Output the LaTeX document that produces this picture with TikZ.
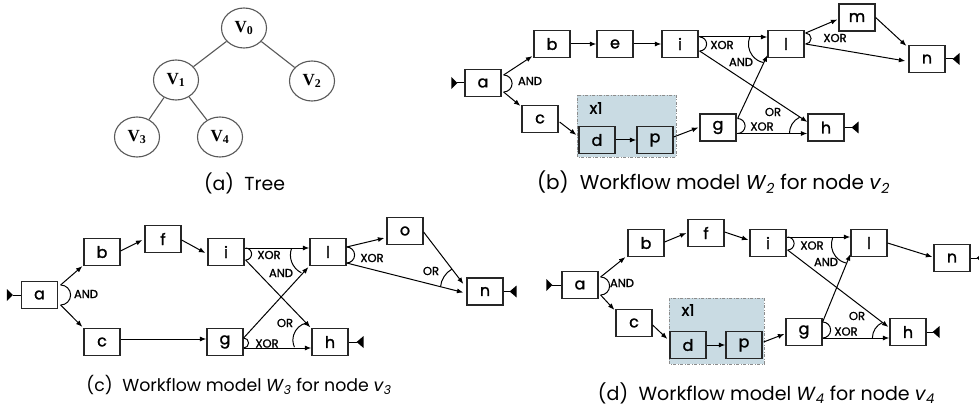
\documentclass[tikz,border=0pt]{standalone}
\usepackage{fontspec}
\usepackage{graphicx}
\usetikzlibrary{shapes.geometric,arrows.meta,calc}

\newfontfamily\popfont{Poppins}
\newfontfamily\popheavy{Poppins}[FakeBold=1.4]
\newfontfamily\vserif{Liberation Serif}
\newcommand\boxfont{\popheavy\fontsize{16}{18}\selectfont}
\newcommand\gatefont{\popheavy\fontsize{11.5}{13}\selectfont}
\newcommand\capfont{\popfont\fontsize{18}{20}\selectfont}
\newcommand\treefont{\vserif\bfseries\fontsize{17}{19}\selectfont}
\newcommand\capline[2]{\resizebox{#1pt}{!}{#2}}
\definecolor{groupblue}{RGB}{201,219,227}

\tikzset{
  task/.style={draw=black!85, line width=1.2pt, minimum width=36pt, minimum height=27pt,
    inner sep=0pt, font=\boxfont},
  gate/.style={font=\gatefont, inner sep=0pt},
  flow/.style={line width=1pt, -{Latex[length=6.5pt,width=5pt]}},
  joint/.style={line width=1pt},
  vert/.style={ellipse, draw=black!65, line width=1.1pt, minimum width=45pt,
    minimum height=40pt, inner sep=0pt, font=\treefont},
  treeedge/.style={draw=black!65, line width=1.1pt},
  group/.style={fill=groupblue, draw=black!45, line width=0.8pt,
    dash pattern=on 3pt off 1.5pt on 1pt off 1.5pt},
  caption/.style={font=\capfont, inner sep=0pt},
  endmark/.style={fill=black},
}

\begin{document}
\begin{tikzpicture}[x=1pt,y=1pt]
\path[use as bounding box] (0,0) rectangle (979,410);
\clip (0,0) rectangle (979,410);
\fill[white] (0,0) rectangle (979,410);

% ---------------- (a) tree ----------------
\node[vert] (v0) at (244,382) {V\textsubscript{0}};
\node[vert] (v1) at (176,330) {V\textsubscript{1}};
\node[vert] (v2) at (312,329) {V\textsubscript{2}};
\node[vert] (v3) at (137,273) {V\textsubscript{3}};
\node[vert] (v4) at (220,273) {V\textsubscript{4}};
\draw[treeedge] (v0) -- (v1);
\draw[treeedge] (v0) -- (v2);
\draw[treeedge] (v1) -- (v3);
\draw[treeedge] (v1) -- (v4);
\node[caption] (capA) at (244.5,227) {\capline{81}{(a)\hspace{0.55em}Tree}};

% ---------------- (b) workflow W2 ----------------
\path[group] (577,253) rectangle (676,315);
\node[gate, font=\boxfont] (Bx) at (596,302) {x1};
\node[task] (Ba) at (483,327) {a};
\node[task] (Bb) at (552,366) {b};
\node[task] (Be) at (615,366) {e};
\node[task] (Bi) at (680,366) {i};
\node[task] (Bl) at (786,366) {l};
\node[task] (Bm) at (857,392.5) {m};
\node[task] (Bn) at (927,351) {n};
\node[task] (Bc) at (540,291) {c};
\node[task] (Bd) at (597,270) {d};
\node[task] (Bp) at (655,270) {p};
\node[task] (Bg) at (718,282.5) {g};
\node[task] (Bh) at (826,282.5) {h};

\coordinate (BaS) at ($(Ba.west)+(-7,0)$);
\draw[joint] (BaS) -- (Ba.west);
\fill[endmark] (BaS) -- ++(-6,6) -- ++(0,-12) -- cycle;

\draw[flow] ($(Ba.east)+(2,8)$) -- ($(Bb.south west)+(-1,2)$);
\draw[flow] ($(Ba.east)+(2,-9)$) -- ($(Bc.north west)+(-1,-1)$);
\draw[joint] ($(Ba.east)+(2,8)$) arc[start angle=90,end angle=-90,radius=8.5];
\node[gate] at (530,329) {AND};

\draw[flow] (Bb) -- (Be);
\draw[flow] (Be) -- (Bi);
\draw[flow] ($(Bi.east)+(0,7)$) -- ($(Bl.west)+(0,7)$);
\draw[flow] ($(Bi.east)+(1,-7)$) -- ($(Bh.west)+(0,5.5)$);
\draw[joint] ($(Bi.east)+(1,7)$) arc[start angle=90,end angle=-90,radius=7];
\node[gate] at (722,365) {XOR};

\draw[flow] ($(Bg.east)+(1,9)$) -- ($(Bl.south west)+(0,3)$);
\draw[flow] ($(Bg.east)+(0,-6)$) -- ($(Bh.west)+(0,-6)$);
\draw[joint] ($(Bg.east)+(1,9)$) arc[start angle=90,end angle=-90,radius=7.5];
\node[gate] at (762,283.5) {XOR};

\draw[joint] ($(Bh.west)+(0,-6)$) ++(116:18) arc[start angle=116,end angle=180,radius=18];
\node[gate] at (773,298) {OR};
\draw[joint] (Bl.west) ++(158:19) arc[start angle=158,end angle=258,radius=19];
\node[gate] at (741,348) {AND};

\draw[flow] ($(Bl.east)+(1,11)$) -- ($(Bm.west)+(-1,-2)$);
\draw[flow] ($(Bl.east)+(1,0)$) -- ($(Bn.west)+(-3,-2)$);
\draw[joint] ($(Bl.east)+(1,11)$) arc[start angle=90,end angle=-90,radius=5.5];
\node[gate] at (835,372) {XOR};
\draw[flow] (Bm.east) -- ($(Bn.north west)+(-2,-1)$);

\draw[flow] ($(Bc.east)+(1,-3)$) -- ($(Bd.west)+(-2,5)$);
\draw[flow] (Bd) -- (Bp);
\draw[flow] ($(Bp.east)+(0,3)$) -- ($(Bg.west)+(-1,0)$);

\coordinate (BnT) at ($(Bn.east)+(7,0)$);
\draw[joint] (Bn.east) -- (BnT);
\fill[endmark] (BnT) -- ++(7,6) -- ++(0,-12) -- cycle;
\coordinate (BhT) at ($(Bh.east)+(7,0)$);
\draw[joint] (Bh.east) -- (BhT);
\fill[endmark] (BhT) -- ++(7,6) -- ++(0,-12) -- cycle;

\node[caption] (capB) at (713.5,228) {\capline{353}{(b)\hspace{0.55em}Workflow model \textit{W}\textsubscript{\textit{2}} for node \textit{v}\textsubscript{\textit{2}}}};

% ---------------- (c) workflow W3 ----------------
\node[task] (Ca) at (39.5,115) {a};
\node[task] (Cb) at (102,158) {b};
\node[task] (Cf) at (163,171) {f};
\node[task] (Ci) at (226,158) {i};
\node[task] (Cc) at (102,68) {c};
\node[task] (Cg) at (225,68) {g};
\node[task] (Cl) at (328,158) {l};
\node[task] (Co) at (405,179) {o};
\node[task] (Cn) at (485,118.5) {n};
\node[task] (Ch) at (330,68) {h};

\coordinate (CaS) at ($(Ca.west)+(-8,0)$);
\draw[joint] (CaS) -- (Ca.west);
\fill[endmark] (CaS) -- ++(-6,6) -- ++(0,-12) -- cycle;

\draw[flow] ($(Ca.east)+(2.5,10)$) -- ($(Cb.south west)+(-1,0)$);
\draw[flow] ($(Ca.east)+(2.5,-10)$) -- ($(Cc.north west)+(-1,1)$);
\draw[joint] ($(Ca.east)+(2.5,10)$) arc[start angle=90,end angle=-90,radius=10];
\node[gate] at (86,116) {AND};

\draw[flow] ($(Cb.east)+(0,1)$) -- ($(Cf.west)+(-2,-1)$);
\draw[flow] ($(Cf.east)+(0,-1)$) -- ($(Ci.west)+(-2,-1)$);
\draw[flow] ($(Cc.east)+(0,3)$) -- ($(Cg.west)+(0,3)$);

\draw[flow] ($(Ci.east)+(0,4)$) -- ($(Cl.west)+(0,4)$);
\draw[flow] ($(Ci.east)+(1,-8)$) -- ($(Ch.north west)+(-1,0.5)$);
\draw[joint] ($(Ci.east)+(1,4)$) arc[start angle=90,end angle=-90,radius=6];
\node[gate] at (269,155) {XOR};

\draw[flow] ($(Cg.east)+(0,4)$) -- ($(Cl.south west)+(-1,-1)$);
\draw[flow] ($(Cg.east)+(0,-6)$) -- ($(Ch.west)+(0,-6)$);
\draw[joint] ($(Cg.east)+(0,4)$) arc[start angle=90,end angle=-90,radius=5];
\node[gate] at (267,66.5) {XOR};

\draw[joint] ($(Ch.west)+(-1,2)$) ++(103:17.5) arc[start angle=103,end angle=204,radius=17.5];
\node[gate] at (285,87) {OR};
\draw[joint] ($(Cl.west)+(1,-3)$) ++(160:20) arc[start angle=160,end angle=243,radius=20];
\node[gate] at (281,137) {AND};

\draw[flow] ($(Cl.east)+(0,5)$) -- ($(Co.west)+(-2,-7)$);
\draw[flow] ($(Cl.east)+(0,-11)$) -- ($(Cn.west)+(-3,-1)$);
\draw[joint] ($(Cl.east)+(0,5)$) arc[start angle=90,end angle=-90,radius=8];
\node[gate] at (372,152) {XOR};
\draw[flow] ($(Co.east)+(0,-1)$) -- ($(Cn.west)+(-3,7.5)$);
\draw[joint] ($(Cn.west)+(-3,2.5)$) ++(120:23) arc[start angle=120,end angle=175,radius=23];
\node[gate] at (431,139) {OR};

\coordinate (ChT) at ($(Ch.east)+(8,0)$);
\draw[joint] (Ch.east) -- (ChT);
\fill[endmark] (ChT) -- ++(7,6) -- ++(0,-12) -- cycle;
\coordinate (CnT) at ($(Cn.east)+(6,0)$);
\draw[joint] (Cn.east) -- (CnT);
\fill[endmark] (CnT) -- ++(7,6) -- ++(0,-12) -- cycle;

\node[caption] (capC) at (239,25) {\capline{305}{(c)\hspace{0.55em}Workflow model \textit{W}\textsubscript{\textit{3}} for node \textit{v}\textsubscript{\textit{3}}}};

% ---------------- (d) workflow W4 ----------------
\path[group] (669,46) rectangle (764,112);
\node[gate, font=\boxfont] (Dx) at (688,100) {x1};
\node[task] (Da) at (580,125) {a};
\node[task] (Db) at (646,167) {b};
\node[task] (Df) at (706,177) {f};
\node[task] (Dc) at (634,87) {c};
\node[task] (Dd) at (688,65) {d};
\node[task] (Dp) at (744,65) {p};
\node[task] (Di) at (768,167) {i};
\node[task] (Dl) at (869,167) {l};
\node[task] (Dn) at (952,152) {n};
\node[task] (Dg) at (804,78) {g};
\node[task] (Dh) at (908,78) {h};

\coordinate (DaS) at ($(Da.west)+(-9,0)$);
\draw[joint] (DaS) -- (Da.west);
\fill[endmark] (DaS) -- ++(-6,6) -- ++(0,-12) -- cycle;

\draw[flow] ($(Da.east)+(2,8)$) -- ($(Db.south west)+(-2,0)$);
\draw[flow] ($(Da.east)+(2,-10)$) -- ($(Dc.north west)+(-1,-1)$);
\draw[joint] ($(Da.east)+(2,8)$) arc[start angle=90,end angle=-90,radius=9];
\node[gate] at (622,127) {AND};

\draw[flow] ($(Db.east)+(0,1)$) -- ($(Df.west)+(-1,0)$);
\draw[flow] ($(Df.east)+(0,1)$) -- ($(Di.west)+(-1,3)$);
\draw[flow] ($(Dc.east)+(0,-2)$) -- ($(Dd.west)+(-2,6)$);
\draw[flow] (Dd) -- (Dp);
\draw[flow] ($(Dp.east)+(1,3)$) -- ($(Dg.west)+(-1,-2)$);

\draw[flow] ($(Di.east)+(0,6)$) -- ($(Dl.west)+(0,6)$);
\draw[flow] ($(Di.east)+(1,-7)$) -- ($(Dh.west)+(-1,5)$);
\draw[joint] ($(Di.east)+(1,6)$) arc[start angle=90,end angle=-90,radius=6.5];
\node[gate] at (812,164.5) {XOR};

\draw[flow] ($(Dg.east)+(0,10)$) -- ($(Dl.south west)+(0,3)$);
\draw[flow] ($(Dg.east)+(0,-6)$) -- ($(Dh.west)+(0,-6)$);
\draw[joint] ($(Dg.east)+(0,10)$) arc[start angle=90,end angle=-90,radius=8];
\node[gate] at (846,78.5) {XOR};

\draw[joint] ($(Dh.west)+(0,-6)$) ++(114:17) arc[start angle=114,end angle=180,radius=17];
\node[gate] at (857,94) {OR};
\draw[joint] ($(Dl.west)+(0,-1.5)$) ++(159:19) arc[start angle=159,end angle=257,radius=19];
\node[gate] at (826,148) {AND};

\draw[flow] (Dl.east) -- ($(Dn.west)+(-1,1)$);

\coordinate (DnT) at ($(Dn.east)+(6,0)$);
\draw[joint] (Dn.east) -- (DnT);
\fill[endmark] (DnT) -- ++(7,6) -- ++(0,-12) -- cycle;
\coordinate (DhT) at ($(Dh.east)+(6,0)$);
\draw[joint] (Dh.east) -- (DhT);
\fill[endmark] (DhT) -- ++(7,6) -- ++(0,-12) -- cycle;

\node[caption] (capD) at (766.5,17) {\capline{337}{(d)\hspace{0.55em}Workflow model \textit{W}\textsubscript{\textit{4}} for node \textit{v}\textsubscript{\textit{4}}}};
\end{tikzpicture}
\end{document}
